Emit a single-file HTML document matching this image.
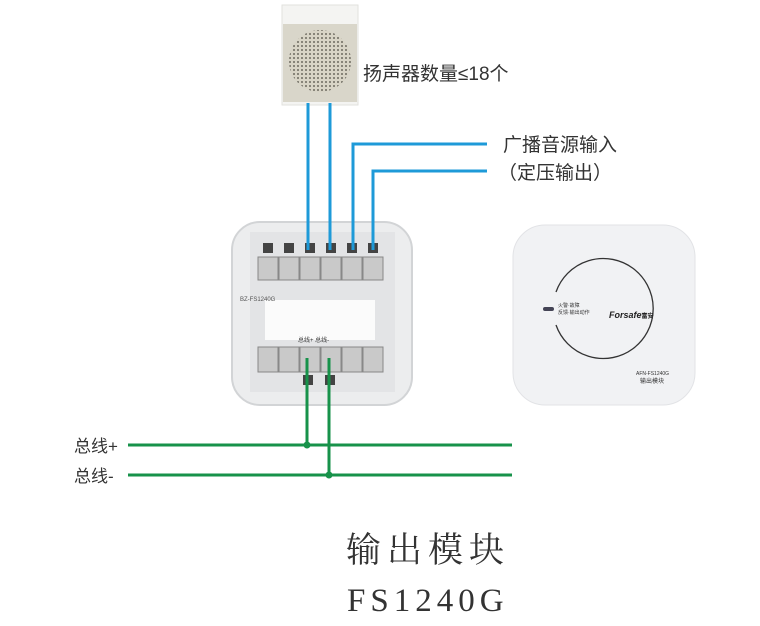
<!DOCTYPE html>
<html><head><meta charset="utf-8"><style>
html,body{margin:0;padding:0;background:#fff;width:760px;height:626px;overflow:hidden}
svg{display:block}
.t{font-family:"Liberation Sans","Noto Sans CJK SC",sans-serif;fill:#333}
.s{font-family:"Liberation Serif","Noto Serif CJK SC",serif;fill:#333}
</style></head><body>
<svg width="760" height="626" viewBox="0 0 760 626" xmlns="http://www.w3.org/2000/svg">
<defs>
<pattern id="dots" width="4" height="4" patternUnits="userSpaceOnUse"><rect width="4" height="4" fill="#d8d4c6"/><circle cx="2" cy="2" r="1" fill="#6d6a60"/></pattern>
</defs>
<!-- speaker -->
<rect x="282" y="5" width="76" height="100" fill="#f4f4f2" stroke="#e2e2de"/>
<rect x="283" y="24" width="74" height="78" fill="#d9d6ca"/>
<circle cx="320" cy="61" r="31" fill="url(#dots)"/>
<text x="363" y="80" class="t" font-size="19">扬声器数量≤18个</text>
<!-- base module -->
<rect x="232" y="222" width="180" height="183" rx="28" fill="#ecedee" stroke="#d2d4d6" stroke-width="2"/>
<rect x="250" y="232" width="145" height="160" fill="#e3e4e6"/>
<rect x="265" y="300" width="110" height="40" fill="#fbfbfb"/>
<g fill="#c9c9c9" stroke="#888" stroke-width="1">
<rect x="258" y="257" width="20" height="23"/><rect x="279" y="257" width="20" height="23"/><rect x="300" y="257" width="20" height="23"/><rect x="321" y="257" width="20" height="23"/><rect x="342" y="257" width="20" height="23"/><rect x="363" y="257" width="20" height="23"/>
<rect x="258" y="347" width="20" height="25"/><rect x="279" y="347" width="20" height="25"/><rect x="300" y="347" width="20" height="25"/><rect x="321" y="347" width="20" height="25"/><rect x="342" y="347" width="20" height="25"/><rect x="363" y="347" width="20" height="25"/>
</g>
<g fill="#444"><rect x="263" y="243" width="10" height="10"/><rect x="284" y="243" width="10" height="10"/><rect x="305" y="243" width="10" height="10"/><rect x="326" y="243" width="10" height="10"/><rect x="347" y="243" width="10" height="10"/><rect x="368" y="243" width="10" height="10"/>
<rect x="303" y="375" width="10" height="10"/><rect x="325" y="375" width="10" height="10"/></g>
<text x="240" y="301" font-size="6" fill="#555" font-family="Liberation Sans">BZ-FS1240G</text>
<text x="298" y="342" font-size="6" fill="#555" class="t">总线+ 总线-</text>
<!-- right module -->
<rect x="513" y="225" width="182" height="180" rx="32" fill="#f1f2f4" stroke="#e2e3e6"/>
<path d="M556 292 A50 50 0 1 1 556 325" fill="none" stroke="#333" stroke-width="1.3"/>
<rect x="543" y="307" width="11" height="4" rx="2" fill="#445"/>
<text x="558" y="307" font-size="5" fill="#333" class="t">火警·故障</text>
<text x="558" y="314" font-size="5" fill="#333" class="t">反馈·输出动作</text>
<text x="609" y="318" font-size="9" font-weight="bold" font-style="italic" fill="#222" font-family="Liberation Sans">Forsafe<tspan font-size="6" font-style="normal">富安</tspan></text>
<text x="636" y="375" font-size="5" fill="#333" font-family="Liberation Sans">AFN-FS1240G</text>
<text x="640" y="383" font-size="6" fill="#333" class="t">输出模块</text>
<!-- blue wires -->
<g stroke="#1e9ad8" stroke-width="3" fill="none">
<path d="M308 103 V250"/><path d="M330 103 V250"/>
<path d="M487 144 H353 V250"/><path d="M487 171 H373 V250"/>
</g>
<text x="503" y="151" class="t" font-size="19">广播音源输入</text>
<text x="498" y="179" class="t" font-size="19">（定压输出）</text>
<!-- green -->
<g stroke="#17924a" stroke-width="3" fill="none">
<path d="M128 445 H512"/><path d="M128 475 H512"/>
<path d="M307 358 V445"/><path d="M329 358 V475"/>
</g>
<circle cx="307" cy="445" r="3.5" fill="#17924a"/><circle cx="329" cy="475" r="3.5" fill="#17924a"/>
<text x="74" y="452" class="t" font-size="17">总线+</text>
<text x="74" y="482" class="t" font-size="17">总线-</text>
<!-- titles -->
<text x="346" y="562" class="s" font-size="35" letter-spacing="6">输出模块</text>
<text x="347" y="611" class="s" font-size="33" letter-spacing="5">FS1240G</text>
</svg>
</body></html>
